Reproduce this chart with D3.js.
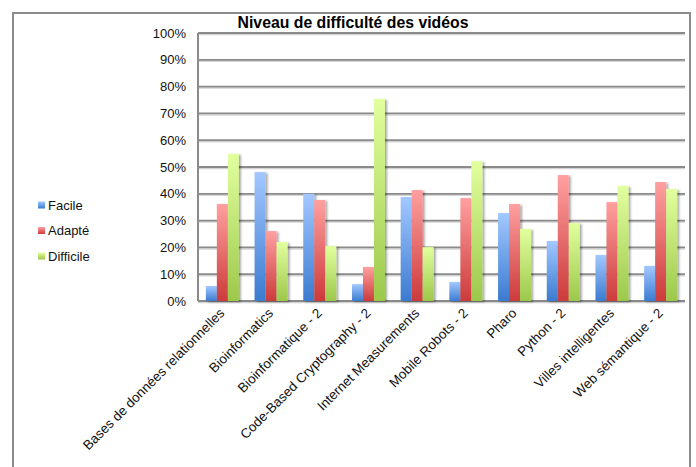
<!DOCTYPE html>
<html>
<head>
<meta charset="utf-8">
<script src="https://cdn.jsdelivr.net/npm/d3@7"></script>
<style>
  body { margin: 0; background: #fff; }
  svg { display: block; font-family: "Liberation Sans", Arial, sans-serif; }
</style>
</head>
<body>
<div id="chart"></div>
<script>
// données
const categories = [
  "Bases de données relationnelles", "Bioinformatics", "Bioinformatique - 2",
  "Code-Based Cryptography - 2", "Internet Measurements", "Mobile Robots - 2",
  "Pharo", "Python - 2", "Villes intelligentes", "Web sémantique - 2"
];
const seriesNames = ["Facile", "Adapté", "Difficile"];
const facile    = [5.6, 48.1, 40.0, 6.3, 38.8, 7.1, 32.8, 22.4, 17.2, 13.1];
const adapte    = [36.2, 26.1, 37.7, 12.7, 41.4, 38.4, 36.2, 47.0, 36.9, 44.4];
const difficile = [54.9, 22.0, 20.5, 75.4, 20.1, 52.2, 26.9, 29.1, 42.9, 41.8];
const yTicks = [0, 10, 20, 30, 40, 50, 60, 70, 80, 90, 100];

const width = 696, height = 467;
const plot = { left: 198, right: 685, top: 33, bottom: 301 };

const svg = d3.select("#chart").append("svg")
    .attr("width", width)
    .attr("height", height);

const defs = svg.append("defs");
const gradColors = [
    ["#a3c8ff", "#3b7bd0"],
    ["#ffa0a0", "#cc3b3b"],
    ["#e2ff9e", "#9cc84a"]
];
gradColors.forEach((c, i) => {
    const g = defs.append("linearGradient")
        .attr("id", "grad" + i)
        .attr("x1", 0).attr("y1", 0).attr("x2", 0).attr("y2", 1);
    g.append("stop").attr("offset", "0%").attr("stop-color", c[0]);
    g.append("stop").attr("offset", "100%").attr("stop-color", c[1]);
});
const f = defs.append("filter").attr("id", "shadow")
    .attr("x", "-30%").attr("y", "-10%").attr("width", "170%").attr("height", "120%");
f.append("feDropShadow").attr("dx", 2).attr("dy", 1).attr("stdDeviation", 1.2)
    .attr("flood-color", "#000").attr("flood-opacity", 0.35);

// cadre extérieur
svg.append("rect")
    .attr("x", 13).attr("y", 13)
    .attr("width", 677).attr("height", 480)
    .attr("fill", "none")
    .attr("stroke", "#8c8c8c")
    .attr("stroke-width", 2);

// titre
svg.append("text")
    .attr("x", 353).attr("y", 28)
    .attr("text-anchor", "middle")
    .attr("font-size", 15.8)
    .attr("font-weight", "bold")
    .text("Niveau de difficulté des vidéos");

const x = d3.scaleBand()
    .domain(categories)
    .range([plot.left, plot.right]);

const xSeries = d3.scaleBand()
    .domain(seriesNames)
    .range([0, 33]);

const y = d3.scaleLinear()
    .domain([0, 100])
    .range([plot.bottom, plot.top]);

// lignes de quadrillage
const grid = svg.append("g");
grid.selectAll("line.shadow")
    .data(yTicks)
    .enter().append("line")
    .attr("x1", plot.left).attr("x2", plot.right)
    .attr("y1", d => y(d) + 1.5).attr("y2", d => y(d) + 1.5)
    .attr("stroke", "#d4d4d4")
    .attr("stroke-width", 1.5);
grid.selectAll("line.main")
    .data(yTicks)
    .enter().append("line")
    .attr("x1", plot.left).attr("x2", plot.right)
    .attr("y1", d => y(d)).attr("y2", d => y(d))
    .attr("stroke", "#8a8a8a")
    .attr("stroke-width", 1.8);

// axe vertical
svg.append("line")
    .attr("x1", plot.left).attr("x2", plot.left)
    .attr("y1", plot.top).attr("y2", plot.bottom)
    .attr("stroke", "#8a8a8a")
    .attr("stroke-width", 2);

// étiquettes de l'axe Y
svg.append("g").selectAll("text")
    .data(yTicks)
    .enter().append("text")
    .attr("x", 186)
    .attr("y", d => y(d))
    .attr("dy", "0.35em")
    .attr("text-anchor", "end")
    .attr("font-size", 13)
    .attr("fill", "#111")
    .text(d => d + "%");

// barres
const series = [facile, adapte, difficile];
series.forEach((vals, si) => {
    svg.append("g")
        .attr("filter", "url(#shadow)")
        .selectAll("rect")
        .data(vals)
        .enter().append("rect")
        .attr("x", (d, i) => x(categories[i]) + (x.bandwidth() - 33) / 2 + xSeries(seriesNames[si]))
        .attr("y", d => y(d))
        .attr("width", xSeries.bandwidth())
        .attr("height", d => plot.bottom - y(d))
        .attr("fill", "url(#grad" + si + ")");
});

// étiquettes de l'axe X
svg.append("g").selectAll("text")
    .data(categories)
    .enter().append("text")
    .attr("transform", d => {
        const cx = x(d) + x.bandwidth() / 2 + 3;
        return "translate(" + cx + "," + 314 + ") rotate(-45)";
    })
    .attr("text-anchor", "end")
    .attr("font-size", 13.4)
    .attr("fill", "#111")
    .text(d => d);

// légende
const legend = svg.append("g");
seriesNames.forEach((name, i) => {
    const ly = 205 + i * 25.5;
    legend.append("rect")
        .attr("x", 38).attr("y", ly - 3.5)
        .attr("width", 7).attr("height", 7)
        .attr("fill", "url(#grad" + i + ")");
    legend.append("text")
        .attr("x", 48).attr("y", ly)
        .attr("dy", "0.35em")
        .attr("font-size", 13)
        .attr("fill", "#111")
        .text(name);
});
</script>
</body>
</html>
